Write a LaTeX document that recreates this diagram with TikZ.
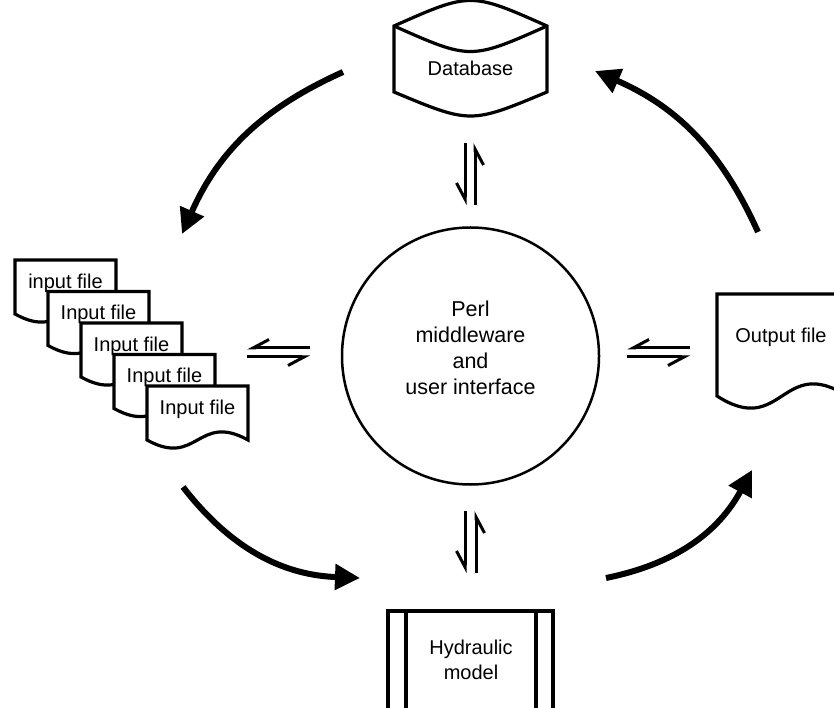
\documentclass[tikz,border=0pt]{standalone}
\usepackage{fontspec}
\setmainfont{Liberation Sans}
\usetikzlibrary{arrows.meta}
\tikzset{
  shapeline/.style={line width=3.2pt, fill=white, line join=miter},
  lbl/.style={font=\fontsize{20}{26}\selectfont, align=center, inner sep=0pt},
  flow/.style={line width=6pt, -{Triangle[length=25pt,width=25pt]}},
  harp/.style={line width=3pt, -{Straight Barb[harpoon,swap,length=16pt,width=17pt]}},
  pics/paperdoc/.style n args={3}{code={
    \draw[shapeline] (0,0) -- (#1,0) -- (#1,-#2)
      .. controls (#1/2,-#2+#3) and (#1/2,-#2-#3) .. (0,-#2) -- cycle;
  }}
}
\begin{document}
\begin{tikzpicture}[x=1pt,y=1pt]
\useasboundingbox (0,0) rectangle (834,707);
\clip (0,0) rectangle (834,707);

% database (cylinder seen from the side)
\draw[shapeline] (394,681) .. controls (470.5,715) .. (547,681) -- (547,615)
  .. controls (470.5,583) .. (394,615) -- cycle;
\draw[line width=3.2pt] (394,681) .. controls (470.5,647) .. (547,681);
\node[lbl] (db) at (470.5,639) {Database};

% central middleware circle
\node[draw, circle, line width=2.5pt, minimum size=257pt, inner sep=0pt] (perl) at (470.5,351) {};
\node[lbl, font=\fontsize{21.5}{26}\selectfont] (perltext) at (470.5,359) {Perl\\middleware\\and\\user interface};

% stacked input files
\foreach \k/\t in {0/input file,1/Input file,2/Input file,3/Input file,4/Input file} {
  \pic at ({15+33*\k},{447-31.5*\k}) {paperdoc={101}{54}{28}};
  \node[lbl] (in\k) at ({65.5+33*\k},{424-31.5*\k}) {\t};
}

% output file
\pic at (717,413) {paperdoc={130}{102}{42}};
\node[lbl] (out) at (781,370) {Output file};

% hydraulic model (predefined process box)
\draw[shapeline] (388,-3) rectangle (553,96);
\draw[line width=3.2pt] (406,-3) -- (406,96) (536,-3) -- (536,96);
\node[lbl, font=\fontsize{20}{25}\selectfont] (hyd) at (471,47.5) {Hydraulic\\model};

% exchange harpoons around the circle
\coordinate (ht1) at (465,564); \coordinate (hb1) at (465,502);
\coordinate (ht2) at (475,564); \coordinate (hb2) at (475,502);
\draw[harp] (ht1) -- (hb1);
\draw[harp] (hb2) -- (ht2);

\coordinate (lt1) at (465,196); \coordinate (lb1) at (465,134);
\coordinate (lt2) at (476,196); \coordinate (lb2) at (476,134);
\draw[harp] (lt1) -- (lb1);
\draw[harp] (lb2) -- (lt2);

\coordinate (wl1) at (247,359); \coordinate (wr1) at (310,359);
\coordinate (wl2) at (247,350); \coordinate (wr2) at (310,350);
\draw[harp] (wr1) -- (wl1);
\draw[harp] (wl2) -- (wr2);

\coordinate (el1) at (627,359); \coordinate (er1) at (690,359);
\coordinate (el2) at (627,350); \coordinate (er2) at (690,350);
\draw[harp] (er1) -- (el1);
\draw[harp] (el2) -- (er2);

% main processing cycle
\coordinate (c1s) at (343,635); \coordinate (c1e) at (182,473);
\coordinate (c2s) at (183,220); \coordinate (c2e) at (360,129);
\coordinate (c3s) at (606,129); \coordinate (c3e) at (752,237);
\coordinate (c4s) at (758,475); \coordinate (c4e) at (595,636);
\draw[flow] (c1s) to[bend right=21] (c1e);
\draw[flow] (c2s) to[bend right=25] (c2e);
\draw[flow] (c3s) to[bend right=25] (c3e);
\draw[flow] (c4s) to[bend right=21] (c4e);
\end{tikzpicture}
\end{document}
